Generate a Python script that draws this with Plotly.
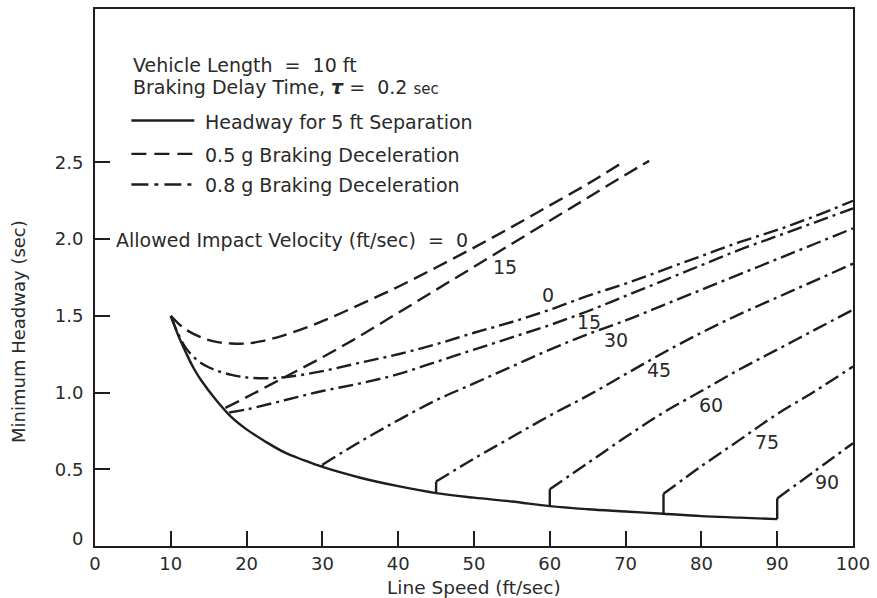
import plotly.graph_objects as go

# ---------------- data ----------------
# Headway for 5 ft separation (solid)
solid_x = [10, 11, 12, 13, 14, 16, 18, 20, 22.5, 25, 27.5, 30, 35, 40, 45, 50, 55, 60, 65, 70, 75, 80, 85, 90]
solid_y = [1.50, 1.37, 1.26, 1.16, 1.08, 0.95, 0.84, 0.76, 0.68, 0.61, 0.56, 0.515, 0.445, 0.39, 0.345,
           0.315, 0.29, 0.26, 0.24, 0.225, 0.21, 0.195, 0.185, 0.175]

# 0.5 g braking deceleration (dashed)
g05_iv0_x = [10, 11, 12, 14, 16, 18, 20, 22, 25, 30, 35, 40, 45, 50, 55, 60, 65, 69.6]
g05_iv0_y = [1.50, 1.45, 1.41, 1.36, 1.33, 1.32, 1.32, 1.335, 1.375, 1.465, 1.575, 1.69, 1.815, 1.945, 2.08,
             2.22, 2.36, 2.50]
g05_iv15_x = [17.2, 20, 25, 30, 35, 40, 45, 50, 55, 60, 65, 70, 73.1]
g05_iv15_y = [0.90, 0.97, 1.10, 1.23, 1.37, 1.52, 1.67, 1.82, 1.97, 2.12, 2.27, 2.42, 2.51]

# 0.8 g braking deceleration (dash-dot)
g08_iv0_x = [10, 11, 12, 13.5, 15, 18, 21, 25, 30, 35, 40, 45, 50, 55, 60, 65, 70, 75, 80, 85, 90, 95, 100]
g08_iv0_y = [1.50, 1.38, 1.29, 1.21, 1.165, 1.115, 1.095, 1.10, 1.14, 1.195, 1.25, 1.315, 1.39, 1.46, 1.54,
             1.63, 1.71, 1.80, 1.89, 1.98, 2.06, 2.15, 2.25]
g08_iv15_x = [17.7, 20, 25, 30, 35, 40, 45, 50, 55, 60, 65, 70, 75, 80, 85, 90, 95, 100]
g08_iv15_y = [0.87, 0.89, 0.95, 1.01, 1.06, 1.12, 1.20, 1.28, 1.36, 1.44, 1.53, 1.63, 1.73, 1.83, 1.93, 2.02, 2.11, 2.20]
g08_iv30_x = [30, 35, 40, 45, 50, 55, 60, 65, 70, 75, 80, 85, 90, 95, 100]
g08_iv30_y = [0.53, 0.68, 0.82, 0.95, 1.06, 1.17, 1.28, 1.38, 1.47, 1.57, 1.67, 1.77, 1.87, 1.97, 2.07]
g08_iv45_x = [45, 50, 55, 60, 65, 70, 75, 80, 85, 90, 95, 100]
g08_iv45_y = [0.42, 0.57, 0.71, 0.85, 0.98, 1.12, 1.26, 1.39, 1.51, 1.62, 1.73, 1.84]
g08_iv60_x = [60, 65, 70, 75, 80, 85, 90, 95, 100]
g08_iv60_y = [0.37, 0.54, 0.71, 0.87, 1.01, 1.15, 1.28, 1.41, 1.54]
g08_iv75_x = [75, 80, 85, 90, 95, 100]
g08_iv75_y = [0.34, 0.52, 0.69, 0.86, 1.01, 1.17]
g08_iv90_x = [90, 95, 100]
g08_iv90_y = [0.31, 0.49, 0.67]

# vertical steps from the solid curve up to each 0.8 g curve start
step_x = [30, 45, 60, 75, 90]
step_bottom = [0.515, 0.345, 0.26, 0.21, 0.175]
step_top = [0.53, 0.42, 0.37, 0.34, 0.31]

# curve labels (allowed impact velocity)
label_text = ["15", "0", "15", "30", "45", "60", "75", "90"]
label_x = [54.1, 59.8, 65.2, 68.7, 74.4, 81.3, 88.7, 96.6]
label_y = [1.82, 1.633, 1.46, 1.34, 1.145, 0.916, 0.678, 0.417]

x_ticks = [0, 10, 20, 30, 40, 50, 60, 70, 80, 90, 100]
y_ticks = [0.5, 1.0, 1.5, 2.0, 2.5]
y_tick_text = ["0.5", "1.0", "1.5", "2.0", "2.5"]

# ---------------- styling ----------------
INK = "#1e1e1e"
TXT = "#2a2a2a"
FONT = "DejaVu Sans"
FS = 19
LW = 2.4
DASH = "15px,7px"
DASHDOT = "15px,5px,3px,5px"

fig = go.Figure()

fig.add_trace(go.Scatter(x=solid_x, y=solid_y, mode="lines",
                         line=dict(color=INK, width=LW), line_shape="spline", showlegend=False))

sx, sy = [], []
for xv, b, t in zip(step_x, step_bottom, step_top):
    sx += [xv, xv, None]
    sy += [b, t, None]
fig.add_trace(go.Scatter(x=sx, y=sy, mode="lines", line=dict(color=INK, width=LW), showlegend=False))

for xs, ys in [(g05_iv0_x, g05_iv0_y), (g05_iv15_x, g05_iv15_y)]:
    fig.add_trace(go.Scatter(x=xs, y=ys, mode="lines", line_shape="spline",
                             line=dict(color=INK, width=LW, dash=DASH), showlegend=False))

for xs, ys in [(g08_iv0_x, g08_iv0_y), (g08_iv15_x, g08_iv15_y), (g08_iv30_x, g08_iv30_y),
               (g08_iv45_x, g08_iv45_y), (g08_iv60_x, g08_iv60_y), (g08_iv75_x, g08_iv75_y),
               (g08_iv90_x, g08_iv90_y)]:
    fig.add_trace(go.Scatter(x=xs, y=ys, mode="lines", line_shape="spline",
                             line=dict(color=INK, width=LW, dash=DASHDOT), showlegend=False))

annotations = []
for t, xv, yv in zip(label_text, label_x, label_y):
    annotations.append(dict(x=xv, y=yv, xref="x", yref="y", text=t, showarrow=False,
                            font=dict(family=FONT, size=FS, color=TXT), xanchor="center", yanchor="middle"))

NB = "\u00a0"
annotations += [
    dict(x=4.8, y=3.138, xref="x", yref="y", showarrow=False, xanchor="left", yanchor="middle",
         text=f"Vehicle Length {NB}={NB} 10 ft", font=dict(family=FONT, size=FS, color=TXT)),
    dict(x=4.8, y=2.99, xref="x", yref="y", showarrow=False, xanchor="left", yanchor="middle",
         text=f"Braking Delay Time, <b><i>τ</i></b> ={NB} 0.2 <span style='font-size:15px'>sec</span>",
         font=dict(family=FONT, size=FS, color=TXT)),
    dict(x=14.3, y=2.765, xref="x", yref="y", showarrow=False, xanchor="left", yanchor="middle",
         text="Headway for 5 ft Separation", font=dict(family=FONT, size=FS, color=TXT)),
    dict(x=14.3, y=2.55, xref="x", yref="y", showarrow=False, xanchor="left", yanchor="middle",
         text="0.5 g Braking Deceleration", font=dict(family=FONT, size=FS, color=TXT)),
    dict(x=14.3, y=2.352, xref="x", yref="y", showarrow=False, xanchor="left", yanchor="middle",
         text="0.8 g Braking Deceleration", font=dict(family=FONT, size=FS, color=TXT)),
    dict(x=2.5, y=1.995, xref="x", yref="y", showarrow=False, xanchor="left", yanchor="middle",
         text=f"Allowed Impact Velocity (ft/sec) {NB}={NB} 0", font=dict(family=FONT, size=FS, color=TXT)),
    dict(x=0.5, y=-0.078, xref="paper", yref="paper", showarrow=False, xanchor="center", yanchor="middle",
         text="Line Speed (ft/sec)", font=dict(family=FONT, size=18.5, color=TXT)),
    dict(x=-0.1, y=0.399, xref="paper", yref="paper", showarrow=False, xanchor="center", yanchor="middle",
         text="Minimum Headway (sec)", textangle=-90, font=dict(family=FONT, size=18, color=TXT)),
    dict(x=0, y=0.05, xref="paper", yref="y", showarrow=False, xanchor="right", yanchor="middle",
         xshift=-10, text="0", font=dict(family=FONT, size=18, color=TXT)),
]

shapes = [
    dict(type="line", xref="x", yref="y", x0=4.8, x1=13.1, y0=2.773, y1=2.773, line=dict(color=INK, width=LW)),
    dict(type="line", xref="x", yref="y", x0=4.8, x1=13.1, y0=2.556, y1=2.556,
         line=dict(color=INK, width=LW, dash="15px,8px")),
    dict(type="line", xref="x", yref="y", x0=4.8, x1=13.1, y0=2.356, y1=2.356,
         line=dict(color=INK, width=LW, dash="17px,6px,4px,6px")),
]

fig.update_layout(
    width=877, height=598,
    margin=dict(l=95, r=18, t=7, b=52),
    paper_bgcolor="white", plot_bgcolor="white",
    font=dict(family=FONT, size=18, color=TXT),
    annotations=annotations, shapes=shapes,
    showlegend=False,
)
fig.update_xaxes(range=[0, 100], tickvals=x_ticks, ticks="inside", ticklen=15, tickwidth=1.5,
                 tickcolor=INK, showline=True, linewidth=2, linecolor=INK, mirror=True,
                 showgrid=False, zeroline=False, tickfont=dict(family=FONT, size=18, color=TXT))
fig.update_yaxes(range=[0, 3.5], tickvals=y_ticks, ticktext=y_tick_text, ticks="inside", ticklen=15,
                 tickwidth=1.5, tickcolor=INK, showline=True, linewidth=2, linecolor=INK, mirror=True,
                 showgrid=False, zeroline=False, ticklabelstandoff=6,
                 tickfont=dict(family=FONT, size=18, color=TXT))

fig.write_html("out.html")
